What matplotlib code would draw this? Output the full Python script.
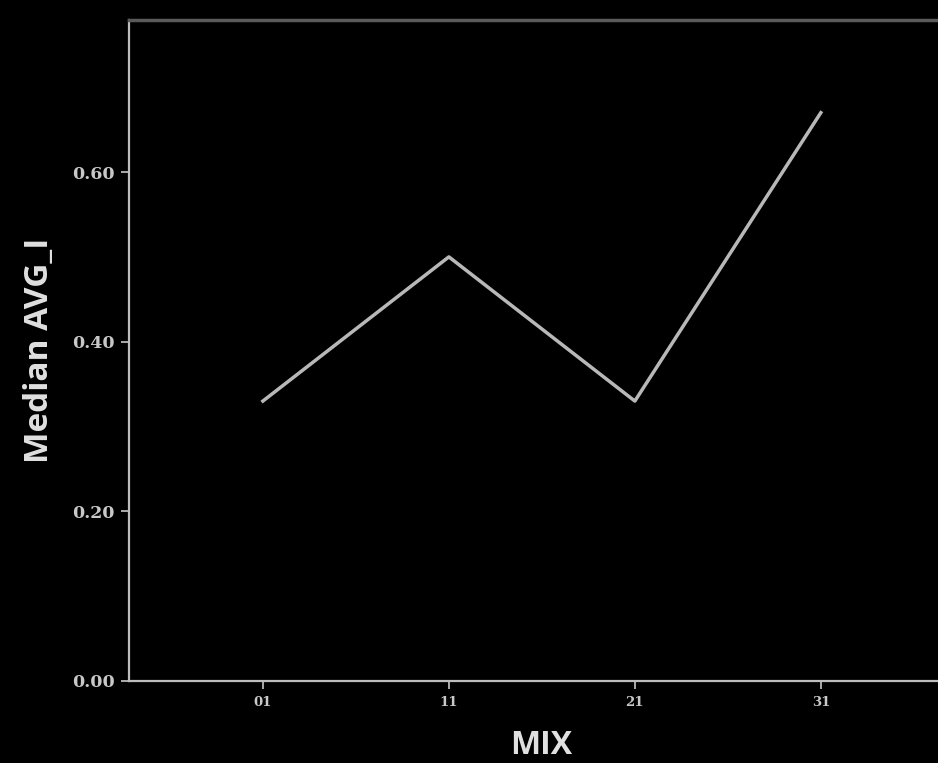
import matplotlib.pyplot as plt

# data
categories = ['01', '11', '21', '31']
medians = [0.33, 0.50, 0.33, 0.67]
yticks = [0.0, 0.2, 0.4, 0.6]
ytick_labels = ['0.00', '0.20', '0.40', '0.60']

fig = plt.figure(figsize=(9.38, 7.63), dpi=100, facecolor='black')
ax = fig.add_axes([0.1375, 0.1075, 0.8625, 0.866], facecolor='black')

x = list(range(len(categories)))
ax.plot(x, medians, color='#b8b8b8', linewidth=2.5)

ax.set_xlim(-0.72, 3.63)
ax.set_ylim(0, 0.779)

ax.set_xticks(x)
ax.set_xticklabels(categories, family='DejaVu Serif', fontweight='bold',
                   fontsize=9.5, color='#d0d0d0')
ax.set_yticks(yticks)
ax.set_yticklabels(ytick_labels, family='DejaVu Serif', fontweight='bold',
                   fontsize=12.5, color='#d0d0d0')
ax.tick_params(axis='x', colors='#c8c8c8', length=6, width=1.2, pad=5)
ax.tick_params(axis='y', colors='#c8c8c8', length=6, width=1.2, pad=4)

for side in ['left', 'bottom']:
    ax.spines[side].set_color('#bdbdbd')
    ax.spines[side].set_linewidth(1.6)
ax.spines['top'].set_color('#5a5a5a')
ax.spines['top'].set_linewidth(2.5)
ax.spines['right'].set_visible(False)

# x label sits close to the bottom edge, as in the original
ax.set_xlabel('MIX', family='Open Sans', fontweight='bold', fontsize=23,
              color='#e0e0e0')
ax.set_ylabel('Median AVG_I', family='Open Sans', fontweight='bold', fontsize=24,
              color='#e0e0e0')
ax.yaxis.set_label_coords(-0.09, 0.5)
ax.xaxis.set_label_coords(0.509, -0.073)
ax.xaxis.label.set_va('top')

fig.savefig('out.png', dpi=100, facecolor='black')
